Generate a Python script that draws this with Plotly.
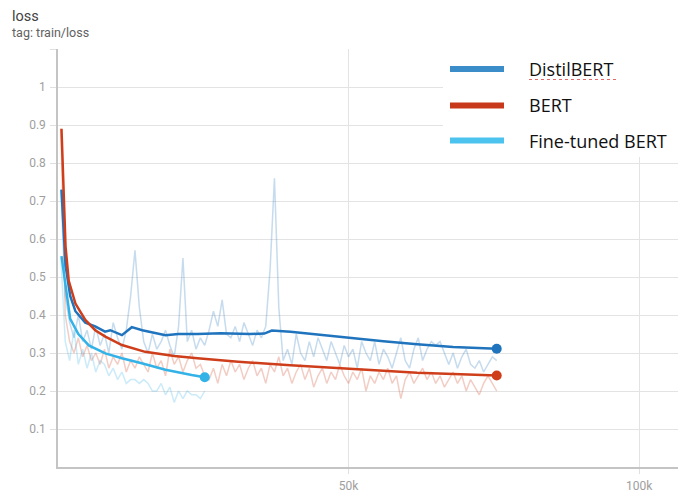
import plotly.graph_objects as go

# ---------------- data ----------------
raw_step0 = 500
raw_interval = 750

distil_raw = [0.73, 0.45, 0.38, 0.34, 0.40, 0.33, 0.36, 0.31, 0.37, 0.32,
              0.35, 0.30, 0.38, 0.34, 0.31, 0.36, 0.45, 0.57, 0.42, 0.33,
              0.30, 0.35, 0.31, 0.33, 0.36, 0.32, 0.29, 0.37, 0.55, 0.33,
              0.36, 0.31, 0.34, 0.32, 0.36, 0.41, 0.37, 0.44, 0.35, 0.34,
              0.37, 0.33, 0.38, 0.35, 0.32, 0.36, 0.34, 0.37, 0.52, 0.76,
              0.42, 0.28, 0.31, 0.27, 0.35, 0.30, 0.28, 0.33, 0.29, 0.34,
              0.31, 0.28, 0.33, 0.30, 0.27, 0.32, 0.29, 0.31, 0.26, 0.33,
              0.30, 0.28, 0.33, 0.27, 0.31, 0.29, 0.26, 0.30, 0.34, 0.28,
              0.26, 0.31, 0.34, 0.28, 0.31, 0.33, 0.32, 0.33, 0.30, 0.27,
              0.30, 0.26, 0.29, 0.31, 0.27, 0.26, 0.28, 0.25, 0.27, 0.29,
              0.28]

bert_raw = [0.89, 0.40, 0.33, 0.30, 0.34, 0.29, 0.32, 0.28, 0.30, 0.27,
            0.31, 0.26, 0.29, 0.27, 0.30, 0.25, 0.28, 0.26, 0.29, 0.27,
            0.25, 0.30, 0.26, 0.28, 0.24, 0.31, 0.27, 0.29, 0.25, 0.28,
            0.30, 0.26, 0.27, 0.24, 0.23, 0.26, 0.22, 0.27, 0.24, 0.28,
            0.25, 0.27, 0.23, 0.26, 0.28, 0.24, 0.26, 0.22, 0.27, 0.25,
            0.29, 0.24, 0.26, 0.22, 0.25, 0.27, 0.23, 0.26, 0.21, 0.24,
            0.26, 0.22, 0.25, 0.23, 0.27, 0.24, 0.22, 0.25, 0.23, 0.26,
            0.20, 0.24, 0.22, 0.25, 0.23, 0.26, 0.22, 0.24, 0.18, 0.23,
            0.25, 0.22, 0.24, 0.26, 0.23, 0.25, 0.22, 0.24, 0.21, 0.23,
            0.25, 0.22, 0.24, 0.20, 0.23, 0.21, 0.19, 0.22, 0.24, 0.22,
            0.20]

finetuned_raw = [0.55, 0.33, 0.28, 0.36, 0.27, 0.31, 0.26, 0.30, 0.25, 0.28,
                 0.27, 0.24, 0.26, 0.23, 0.25, 0.22, 0.23, 0.23, 0.22, 0.23,
                 0.22, 0.20, 0.20, 0.22, 0.19, 0.21, 0.17, 0.20, 0.18, 0.20,
                 0.19, 0.19, 0.18, 0.20]

distil_smooth_steps = [600, 1300, 2100, 3000, 4700, 6400, 8100, 9000, 11000, 12700,
                       14500, 18500, 20700, 24000, 28000, 33000, 35500, 36800, 40000,
                       45000, 50300, 56000, 61800, 68000, 75500]
distil_smooth = [0.73, 0.53, 0.45, 0.41, 0.38, 0.37, 0.356, 0.36, 0.347, 0.368,
                 0.36, 0.347, 0.35, 0.35, 0.352, 0.35, 0.351, 0.359, 0.356,
                 0.348, 0.339, 0.331, 0.323, 0.316, 0.311]

bert_smooth_steps = [600, 1300, 1850, 3000, 4700, 6400, 8150, 11000, 15000, 17500,
                     20000, 24000, 31000, 40000, 48500, 61800, 75500]
bert_smooth = [0.89, 0.58, 0.49, 0.43, 0.387, 0.36, 0.343, 0.321, 0.303, 0.298,
               0.292, 0.286, 0.277, 0.268, 0.26, 0.248, 0.241]

finetuned_smooth_steps = [600, 1500, 2100, 3500, 5300, 8150, 11000, 14400, 18500, 23000, 25250]
finetuned_smooth = [0.555, 0.46, 0.39, 0.35, 0.32, 0.299, 0.286, 0.273, 0.256, 0.242, 0.236]

series_names = ["DistilBERT", "BERT", "Fine-tuned BERT"]
x_tick_vals = [50000, 100000]
x_tick_text = ["50k", "100k"]
y_tick_vals = [0.1, 0.2, 0.3, 0.4, 0.5, 0.6, 0.7, 0.8, 0.9, 1.0, 1.1]
y_tick_text = ["0.1", "0.2", "0.3", "0.4", "0.5", "0.6", "0.7", "0.8", "0.9", "1", ""]

# ---------------- styles ----------------
smooth_colors = ["#1f74bd", "#cf3e1b", "#33b2e8"]
legend_colors = ["#3a8dc9", "#c8391b", "#4cc3ee"]

raws = [distil_raw, bert_raw, finetuned_raw]
smooth_x = [distil_smooth_steps, bert_smooth_steps, finetuned_smooth_steps]
smooth_y = [distil_smooth, bert_smooth, finetuned_smooth]

fig = go.Figure()

for i in range(3):
    xs = [raw_step0 + raw_interval * k for k in range(len(raws[i]))]
    fig.add_trace(go.Scatter(x=xs, y=raws[i], mode="lines",
                             line=dict(color=smooth_colors[i], width=1.5),
                             opacity=0.25, showlegend=False, hoverinfo="skip"))

for i in range(3):
    fig.add_trace(go.Scatter(x=smooth_x[i], y=smooth_y[i], mode="lines",
                             line=dict(color=smooth_colors[i], width=2.5),
                             name=series_names[i], showlegend=False))
    fig.add_trace(go.Scatter(x=[smooth_x[i][-1]], y=[smooth_y[i][-1]], mode="markers",
                             marker=dict(color=smooth_colors[i], size=10),
                             showlegend=False, hoverinfo="skip"))

# page has an 8px body margin: work in window pixels, convert to figure pixels
OFF = 8
FW, FH = 686 - OFF, 495 - OFF
# plot area in window px: left 58, right 678, top 49, bottom 467
L, R, T, B = 58, 678, 49, 467
W, H = R - L, B - T
def px(xp):
    return (xp - L) / W
def py(yp):
    return (B - yp) / H

shapes = []
shapes.append(dict(type="rect", xref="paper", yref="paper",
                   x0=px(443), x1=px(700), y0=py(157), y1=py(44),
                   fillcolor="white", line=dict(width=0), layer="above"))
legend_y = [69, 105.5, 140.5]
for i in range(3):
    shapes.append(dict(type="line", xref="paper", yref="paper",
                       x0=px(450), x1=px(504), y0=py(legend_y[i]), y1=py(legend_y[i]),
                       line=dict(color=legend_colors[i], width=6), layer="above"))
shapes.append(dict(type="line", xref="paper", yref="paper",
                   x0=px(529), x1=px(616), y0=py(79.5), y1=py(79.5),
                   line=dict(color="#e26a6a", width=1, dash="dot"), layer="above"))

annotations = []
for i in range(3):
    annotations.append(dict(xref="paper", yref="paper", x=px(527), y=py(legend_y[i]),
                            text=series_names[i], showarrow=False, xanchor="left",
                            yanchor="middle",
                            font=dict(family="Open Sans", size=18, color="#111111")))
annotations.append(dict(xref="paper", yref="paper", x=px(11), y=py(16.5),
                        text="loss", showarrow=False, xanchor="left", yanchor="middle",
                        borderpad=0,
                        font=dict(family="Roboto", size=14.5, color="#424242")))
annotations.append(dict(xref="paper", yref="paper", x=px(11), y=py(32.5),
                        text="tag: train/loss", showarrow=False, xanchor="left",
                        yanchor="middle", borderpad=0,
                        font=dict(family="Roboto", size=12.5, color="#616161")))

fig.update_layout(
    width=FW, height=FH,
    margin=dict(l=L - OFF, r=686 - R, t=T - OFF, b=495 - B, pad=0),
    paper_bgcolor="white", plot_bgcolor="white",
    shapes=shapes, annotations=annotations,
    font=dict(family="Roboto", size=12, color="#9e9e9e"),
    xaxis=dict(range=[0, 106700], tickvals=x_tick_vals, ticktext=x_tick_text,
               showgrid=True, gridcolor="#e3e3e3", gridwidth=1,
               ticks="outside", ticklen=5, tickcolor="#e0e0e0",
               ticklabelstandoff=2, automargin=False,
               showline=True, linecolor="#c4c4c4", linewidth=1.5,
               zeroline=False, tickfont=dict(size=12, color="#9e9e9e")),
    yaxis=dict(range=[0, 1.1], tickvals=y_tick_vals, ticktext=y_tick_text,
               showgrid=True, gridcolor="#e3e3e3", gridwidth=1,
               ticks="outside", ticklen=6, tickcolor="#e0e0e0",
               ticklabelstandoff=2, automargin=False,
               showline=True, linecolor="#c4c4c4", linewidth=1.5,
               zeroline=False, tickfont=dict(size=12, color="#9e9e9e")),
)

fig.write_html("out.html")
